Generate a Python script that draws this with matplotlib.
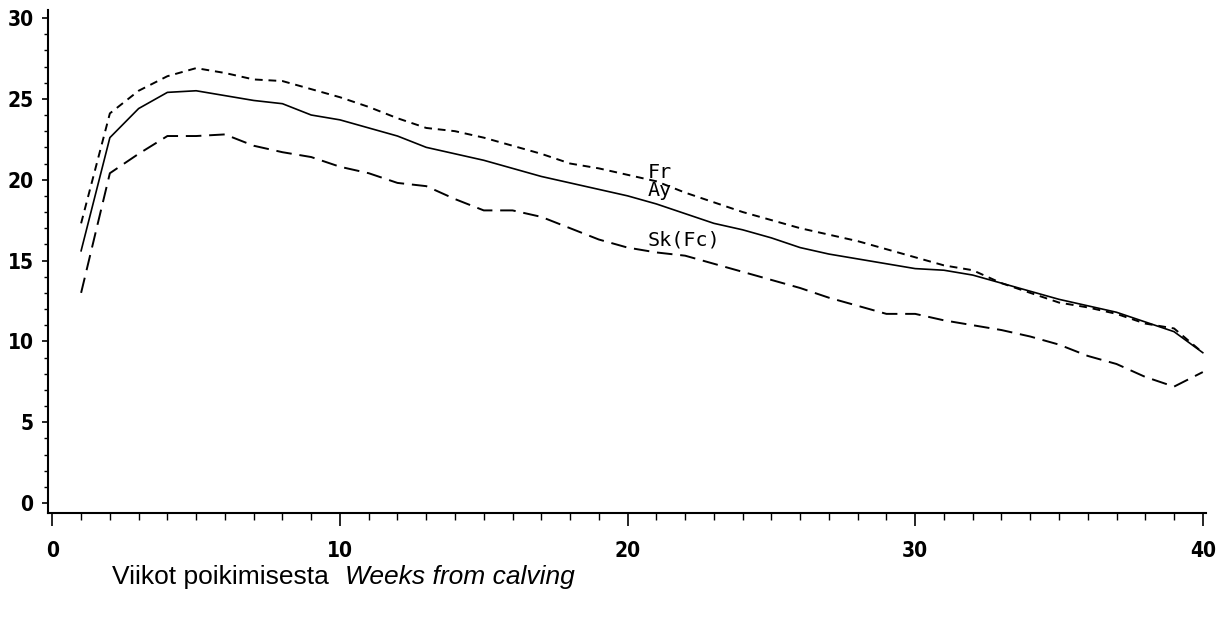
import matplotlib
matplotlib.use("Agg")
import matplotlib.pyplot as plt
from matplotlib.ticker import MultipleLocator
import numpy as np

# weeks from calving
weeks = list(range(1, 41))

# Ay (solid)
ay = [15.6, 22.6, 24.4, 25.4, 25.5, 25.2, 24.9, 24.7, 24.0, 23.7,
      23.2, 22.7, 22.0, 21.6, 21.2, 20.7, 20.2, 19.8, 19.4, 19.0,
      18.5, 17.9, 17.3, 16.9, 16.4, 15.8, 15.4, 15.1, 14.8, 14.5,
      14.4, 14.1, 13.6, 13.1, 12.6, 12.2, 11.8, 11.2, 10.6, 9.3]

# Fr (short dashes)
fr = [17.3, 24.1, 25.5, 26.4, 26.9, 26.6, 26.2, 26.1, 25.6, 25.1,
      24.5, 23.8, 23.2, 23.0, 22.6, 22.1, 21.6, 21.0, 20.7, 20.3,
      19.9, 19.2, 18.6, 18.0, 17.5, 17.0, 16.6, 16.2, 15.7, 15.2,
      14.7, 14.4, 13.6, 13.0, 12.4, 12.1, 11.7, 11.1, 10.8, 9.3]

# Sk(Fc) (long dashes)
sk = [13.0, 20.4, 21.6, 22.7, 22.7, 22.8, 22.1, 21.7, 21.4, 20.8,
      20.4, 19.8, 19.6, 18.8, 18.1, 18.1, 17.7, 17.0, 16.3, 15.8,
      15.5, 15.3, 14.8, 14.3, 13.8, 13.3, 12.7, 12.2, 11.7, 11.7,
      11.3, 11.0, 10.7, 10.3, 9.8, 9.1, 8.6, 7.8, 7.2, 8.1]

labels = ["Fr", "Ay", "Sk(Fc)"]
label_x = 20.7
label_y = [20.45, 19.3, 16.3]

fig = plt.figure(figsize=(12.16, 6.2), dpi=100)
ax = fig.add_axes([0.0395, 0.173, 0.952, 0.811])

ax.plot(weeks, ay, color="black", lw=1.2, ls="-")
ax.plot(weeks, fr, color="black", lw=1.4, ls=(0, (4, 3)))
ax.plot(weeks, sk, color="black", lw=1.4, ls=(0, (8, 4)))

for t, y in zip(labels, label_y):
    ax.text(label_x, y, t, fontsize=14.5, family="DejaVu Sans Mono",
            ha="left", va="center")

ax.set_xlim(-0.15, 40.1)
ax.set_ylim(-0.6, 30.5)
ax.spines["top"].set_visible(False)
ax.spines["right"].set_visible(False)
ax.spines["left"].set_linewidth(1.5)
ax.spines["bottom"].set_linewidth(1.5)

ax.xaxis.set_major_locator(MultipleLocator(10))
ax.xaxis.set_minor_locator(MultipleLocator(1))
ax.yaxis.set_major_locator(MultipleLocator(5))
ax.yaxis.set_minor_locator(MultipleLocator(1))
ax.tick_params(axis="x", which="major", length=9, width=1.2, pad=11)
ax.tick_params(axis="x", which="minor", length=5, width=1.0)
ax.tick_params(axis="y", which="major", length=4.5, width=1.2, pad=6)
ax.tick_params(axis="y", which="minor", length=3, width=1.0)

for lab in ax.get_xticklabels() + ax.get_yticklabels():
    lab.set_family("DejaVu Sans")
    lab.set_stretch("condensed")
    lab.set_fontweight("bold")
    lab.set_fontsize(15)

fig.text(112 / 1216, 1 - 584 / 620, "Viikot poikimisesta", fontsize=19,
         family="Liberation Sans", ha="left", va="baseline")
fig.text(345 / 1216, 1 - 584 / 620, "Weeks from calving", fontsize=19,
         family="Liberation Sans", style="italic", ha="left", va="baseline")

fig.savefig("out.png", dpi=100)
